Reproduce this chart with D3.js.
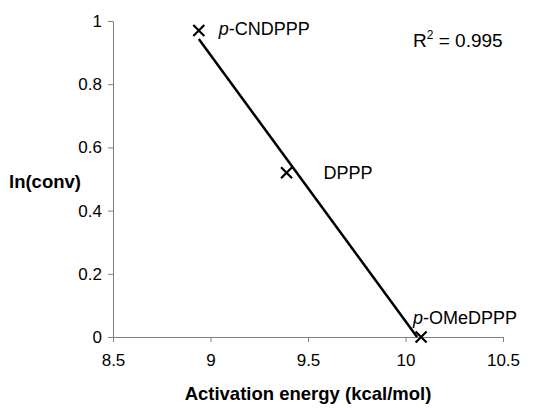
<!DOCTYPE html>
<html>
<head>
<meta charset="utf-8">
<script src="https://cdn.jsdelivr.net/npm/d3@7"></script>
<style>
  body { margin: 0; background: #fff; }
  svg { font-family: "Liberation Sans", Arial, sans-serif; }
</style>
</head>
<body>
<div id="chart"></div>
<script>
// data
var names = ['p-CNDPPP', 'DPPP', 'p-OMeDPPP'];
var energy = [8.94, 9.39, 10.08];
var lnconv = [0.97, 0.52, 0];
var xTicks = [8.5, 9, 9.5, 10, 10.5];
var yTicks = [0, 0.2, 0.4, 0.6, 0.8, 1];
var r2Text = '0.995';

var width = 548, height = 408;
var margin = {left: 113, right: 45, top: 21, bottom: 71};

var svg = d3.select('#chart').append('svg')
  .attr('width', width)
  .attr('height', height);

var x = d3.scaleLinear().domain([8.5, 10.5]).range([margin.left, width - margin.right]);
var y = d3.scaleLinear().domain([0, 1]).range([height - margin.bottom, margin.top]);

// axes
var xAxis = svg.append('g')
  .attr('transform', 'translate(0,' + y(0) + ')')
  .call(d3.axisBottom(x).tickValues(xTicks).tickSize(5).tickSizeOuter(0).tickPadding(9)
    .tickFormat(function(d) { return d; }));
var yAxis = svg.append('g')
  .attr('transform', 'translate(' + x(8.5) + ',0)')
  .call(d3.axisLeft(y).tickValues(yTicks).tickSize(5).tickSizeOuter(0).tickPadding(6)
    .tickFormat(function(d) { return d; }));

[xAxis, yAxis].forEach(function(a) {
  a.selectAll('path, line').attr('stroke', '#808080').attr('stroke-width', 1);
  a.selectAll('text').attr('font-size', '17px').attr('fill', '#000')
    .attr('font-family', '"Liberation Sans", Arial, sans-serif');
});
xAxis.selectAll('text').attr('dy', '0.9em');

// least squares trend line
var mx = d3.mean(energy), my = d3.mean(lnconv);
var sxy = 0, sxx = 0;
energy.forEach(function(e, i) {
  sxy += (e - mx) * (lnconv[i] - my);
  sxx += (e - mx) * (e - mx);
});
var slope = sxy / sxx;
var icpt = my - slope * mx;
var x0 = d3.min(energy), x1 = d3.max(energy);
var xEnd = Math.min(x1, -icpt / slope);

svg.append('line')
  .attr('x1', x(x0)).attr('y1', y(icpt + slope * x0))
  .attr('x2', x(xEnd)).attr('y2', y(Math.max(0, icpt + slope * xEnd)))
  .attr('stroke', '#000')
  .attr('stroke-width', 2.5);

// x markers
svg.selectAll('.pt')
  .data(energy)
  .enter().append('path')
  .attr('class', 'pt')
  .attr('d', function(d, i) {
    var cx = x(d), cy = y(lnconv[i]), s = 5.5;
    return 'M' + (cx - s) + ',' + (cy - s) + 'L' + (cx + s) + ',' + (cy + s) +
      'M' + (cx - s) + ',' + (cy + s) + 'L' + (cx + s) + ',' + (cy - s);
  })
  .attr('stroke', '#000')
  .attr('stroke-width', 2.2)
  .attr('fill', 'none');

// point labels
var labelPos = [[20, 5], [37, 6], [-8, -13]];
names.forEach(function(n, i) {
  var t = svg.append('text')
    .attr('x', x(energy[i]) + labelPos[i][0])
    .attr('y', y(lnconv[i]) + labelPos[i][1])
    .attr('font-size', '18px')
    .attr('fill', '#000');
  if (n.indexOf('p-') === 0) {
    t.append('tspan').attr('font-style', 'italic').text('p');
    t.append('tspan').text(n.slice(1));
  } else {
    t.text(n);
  }
});

// R squared
var r2 = svg.append('text')
  .attr('x', 413).attr('y', 47)
  .attr('font-size', '19px')
  .attr('fill', '#000');
r2.append('tspan').text('R');
r2.append('tspan').attr('font-size', '12px').attr('dy', -8).text('2');
r2.append('tspan').attr('dy', 8).text(' = ' + r2Text);

// axis titles
svg.append('text')
  .attr('x', (x(8.5) + x(10.5)) / 2)
  .attr('y', 400)
  .attr('text-anchor', 'middle')
  .attr('font-size', '18.5px')
  .attr('font-weight', 'bold')
  .text('Activation energy (kcal/mol)');

svg.append('text')
  .attr('x', 9)
  .attr('y', 188)
  .attr('font-size', '18.5px')
  .attr('font-weight', 'bold')
  .text('ln(conv)');
</script>
</body>
</html>
